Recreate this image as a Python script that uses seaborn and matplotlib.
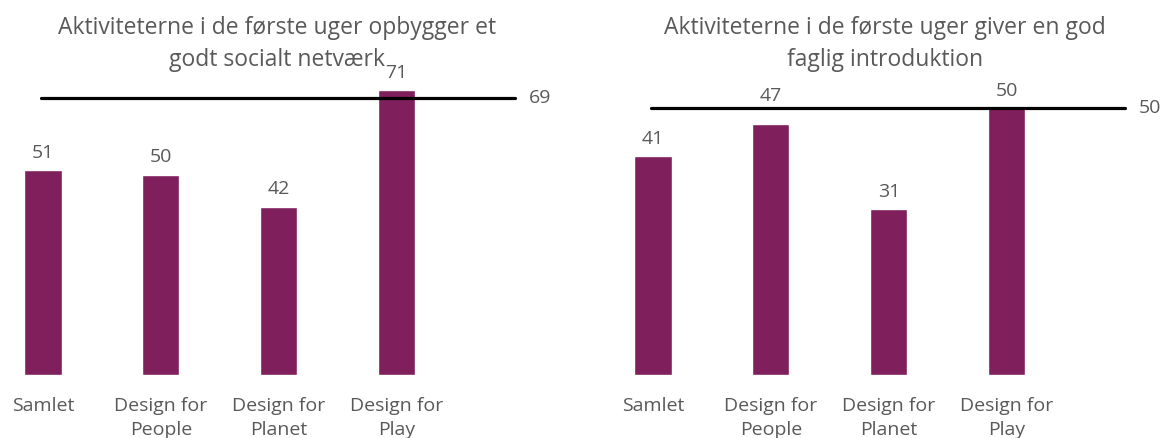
import matplotlib
matplotlib.use('Agg')
import matplotlib.pyplot as plt
import seaborn as sns
import pandas as pd

# data
categories = ['Samlet', 'Design for\nPeople', 'Design for\nPlanet', 'Design for\nPlay']
netvaerk = [51, 50, 42, 71]
netvaerk_ref = 69
faglig = [41, 47, 31, 50]
faglig_ref = 50
titles = ['Aktiviteterne i de første uger opbygger et\ngodt socialt netværk',
          'Aktiviteterne i de første uger giver en god\nfaglig introduktion']

sns.set_theme(style='white')
plt.rcParams['font.family'] = ['Open Sans', 'DejaVu Sans']

bar_color = '#7f1f5c'
text_color = '#595959'

W, H = 1165, 438
fig = plt.figure(figsize=(W / 100, H / 100), dpi=100)

step = 117.9          # pixels per category
base_px = 375         # baseline, pixels from top
top_px = 85           # axes top, pixels from top
x0, x1 = -0.36, 4.0

# (values, reference line, title, first bar px, px per unit, title px, label lifted)
panels = [
    (netvaerk, netvaerk_ref, titles[0], 43, 4.01, 277, None),
    (faglig, faglig_ref, titles[1], 653, 5.34, 885, 1),
]

for values, ref, title, first_px, px_per_unit, title_px, lifted in panels:
    left_px = first_px + x0 * step
    width_px = (x1 - x0) * step
    ax = fig.add_axes([left_px / W, (H - base_px) / H,
                       width_px / W, (base_px - top_px) / H])
    df = pd.DataFrame({'kategori': categories, 'andel': values})
    sns.barplot(data=df, x='kategori', y='andel', color=bar_color,
                width=0.315, saturation=1, ax=ax)
    labels = ax.bar_label(ax.containers[0], padding=6, fontsize=14,
                          color=text_color)
    if lifted is not None:
        # label moved above the reference line in the original
        labels[lifted].xyann = (0, 14)
    ax.plot([-0.02, 4.0], [ref, ref], color='black', lw=2.3,
            solid_capstyle='round', clip_on=False, zorder=3)
    ax.text(4.12, ref, str(ref), ha='left', va='center', fontsize=14,
            color=text_color, clip_on=False)
    ax.set_xlim(x0, x1)
    ax.set_ylim(0, (base_px - top_px) / px_per_unit)
    ax.set_xlabel('')
    ax.set_ylabel('')
    ax.set_yticks([])
    ax.tick_params(axis='x', length=0, pad=16, labelsize=14, labelcolor=text_color)
    for lab in ax.get_xticklabels():
        lab.set_linespacing(1.4)
    sns.despine(ax=ax, left=True, bottom=True)
    fig.text(title_px / W, 1 - 44 / H, title, ha='center', va='center',
             multialignment='center', fontsize=16.5, color=text_color,
             linespacing=1.4)

fig.savefig('out.png', dpi=100)
